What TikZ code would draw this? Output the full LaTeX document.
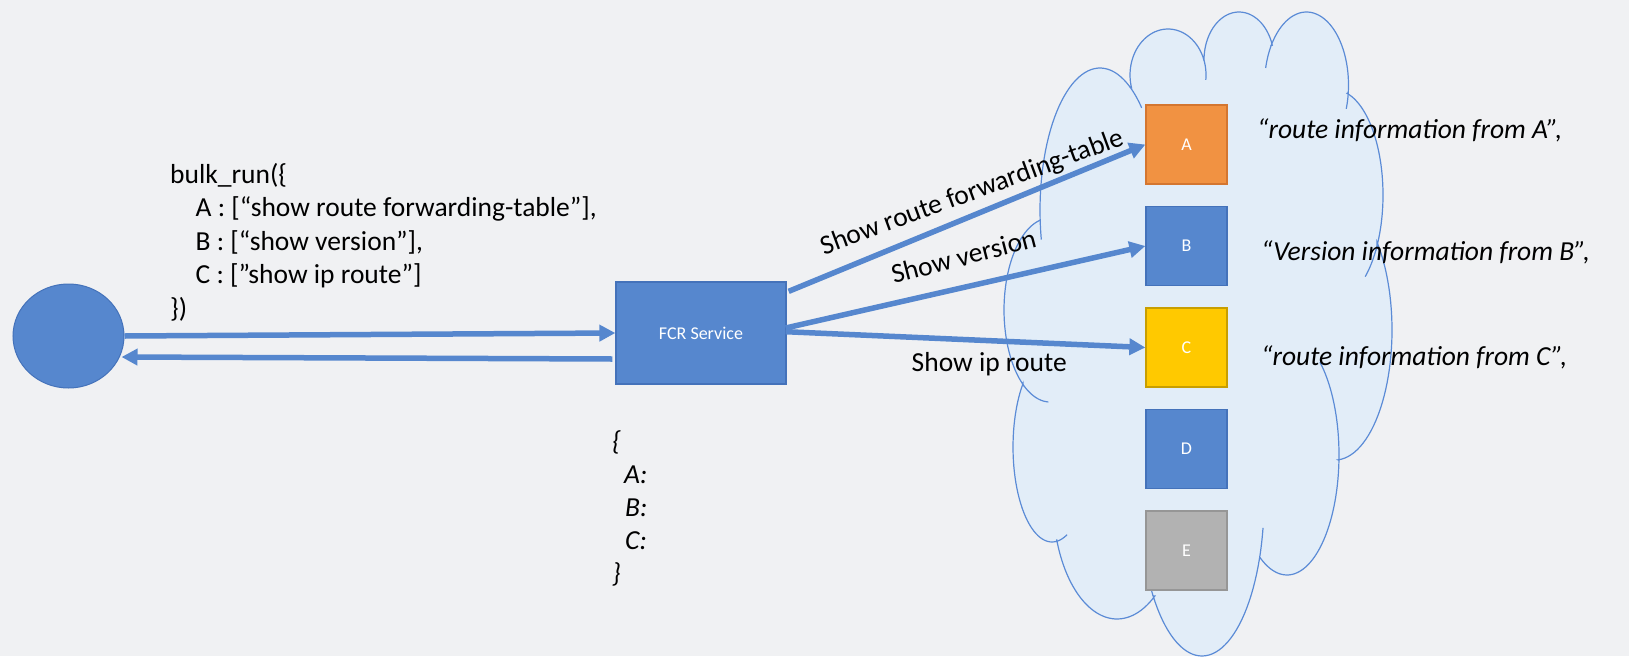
\documentclass[tikz,border=0pt]{standalone}
\usepackage{fontspec}
\setmainfont{Carlito}
\usetikzlibrary{arrows.meta,shapes.geometric,calc}

\definecolor{bgcol}{RGB}{240,241,243}
\definecolor{nodeblue}{RGB}{86,135,206}
\definecolor{blueedge}{RGB}{68,114,186}
\definecolor{aorange}{RGB}{241,146,66}
\definecolor{aedge}{RGB}{212,118,48}
\definecolor{cyellow}{RGB}{255,201,0}
\definecolor{cedge}{RGB}{200,158,0}
\definecolor{egray}{RGB}{178,178,178}
\definecolor{eedge}{RGB}{150,150,150}
\definecolor{cloudfill}{RGB}{226,237,248}
\definecolor{cloudline}{RGB}{91,139,214}
\definecolor{arrowblue}{RGB}{86,135,206}

\begin{document}
\begin{tikzpicture}[x=1pt,y=-1pt,
  device/.style={draw, line width=1.3pt, minimum width=81pt, minimum height=79pt,
    inner sep=0pt, text=white, font=\fontsize{18}{20}\selectfont},
  flow/.style={draw=arrowblue, line width=5.5pt, -{Triangle[length=16pt,width=16pt]}},
  code/.style={anchor=base west, inner sep=0pt, font=\fontsize{27.5}{33}\selectfont},
  reply/.style={anchor=base west, inner sep=0pt, font=\fontsize{27.5}{33}\selectfont\itshape},
  cmdlabel/.style={anchor=base, inner sep=0pt, font=\fontsize{27.5}{33}\selectfont},
  wrinkle/.style={draw=cloudline, line width=1.2pt},
]
\useasboundingbox (0,0) rectangle (1629,656);
\fill[bgcol] (0,0) rectangle (1629,656);

% cloud outline: one elliptical arc per bump, joined at the notches
\filldraw[fill=cloudfill, draw=cloudline, line width=1.2pt]
  plot[domain=176:300, samples=40, variable=\t] ({1100+60*cos(\t)},{210+142*sin(\t)})
  -- plot[domain=164:341, samples=40, variable=\t] ({1168+38*cos(\t)},{75+46*sin(\t)})
  -- plot[domain=180:342, samples=40, variable=\t] ({1239+35*cos(\t)},{60+48*sin(\t)})
  -- plot[domain=213:366, samples=40, variable=\t] ({1306.5+42*cos(\t)},{85+73*sin(\t)})
  -- plot[domain=284.5:389, samples=40, variable=\t] ({1335+48*cos(\t)},{195+105*sin(\t)})
  -- plot[domain=317.5:447, samples=40, variable=\t] ({1335+57*cos(\t)},{330+130*sin(\t)})
  -- plot[domain=2.5:121, samples=40, variable=\t] ({1287+52*cos(\t)},{455+120*sin(\t)})
  -- plot[domain=22:142, samples=40, variable=\t] ({1202+62*cos(\t)},{500+156*sin(\t)})
  -- plot[domain=53.8:160.7, samples=40, variable=\t] ({1117+64*cos(\t)},{500+119*sin(\t)})
  -- plot[domain=82.6:221.9, samples=40, variable=\t] ({1052+39*cos(\t)},{447+95*sin(\t)})
  -- plot[domain=125.9:257.5, samples=40, variable=\t] ({1050+46*cos(\t)},{310+92*sin(\t)})
  -- cycle;

% inner wrinkles of the cloud
\foreach \cx/\cy/\rx/\ry/\ta/\tb in {
  1100/210/60/142/168/176, 1100/210/60/142/300/314,
  1168/75/38/46/341/366,
  1306.5/85/42/73/193.5/213, 1306.5/85/42/73/366/379,
  1335/195/48/105/389/411,
  1287/455/52/120/309.3/362.5,
  1202/500/62/156/10.3/22, 1202/500/62/156/142/146,
  1052/447/39/95/67.4/82.6,
  1050/310/46/92/92/125.9}
  \draw[wrinkle] plot[domain=\ta:\tb, samples=20, variable=\t] ({\cx+\rx*cos(\t)},{\cy+\ry*sin(\t)});

% devices inside the cloud
\node[device, fill=aorange, draw=aedge] (devA) at (1186.5,144.5) {A};
\node[device, fill=nodeblue, draw=blueedge] (devB) at (1186.5,246) {B};
\node[device, fill=cyellow, draw=cedge] (devC) at (1186.5,347.5) {C};
\node[device, fill=nodeblue, draw=blueedge] (devD) at (1186.5,449) {D};
\node[device, fill=egray, draw=eedge] (devE) at (1186.5,550.5) {E};

% client and service
\node[ellipse, fill=nodeblue, draw=blueedge, line width=1pt, minimum width=111pt,
  minimum height=104pt, inner sep=0pt] (client) at (68.5,336) {};
\node[rectangle, fill=nodeblue, draw=blueedge, line width=1.3pt, minimum width=170pt,
  minimum height=102pt, inner sep=0pt, text=white, font=\fontsize{18}{20}\selectfont]
  (fcr) at (701,333) {FCR Service};

% connectors
\coordinate (retfrom) at ($(fcr.west)+(-3,26)$);
\coordinate (retto) at ($(client.east)+(-3,21)$);
\coordinate (outA) at ($(fcr.north east)+(2,10)$);
\coordinate (outB) at ($(fcr.east)+(-1,-5)$);
\coordinate (outC) at ($(fcr.east)+(-1,-1.3)$);

\draw[flow] (client.east) -- (fcr.west);
\draw[flow] (retfrom) -- (retto);
\draw[flow] (outA) -- (devA.west);
\draw[flow] (outB) -- (devB.west);
\draw[flow] (outC) -- (devC.west);

% command labels on the connectors
\node[cmdlabel, rotate=20.2] (lblA) at (975,199.7) {Show route forwarding-table};
\node[cmdlabel, rotate=14.5] (lblB) at (965.8,265.3) {Show version};
\node[code] (lblC) at (911.5,371.7) {Show ip route};

% request text
\node[code] (req1) at (170,183) {bulk\_run(\{};
\node[code] (req2) at (195.5,216.5) {A : [“show route forwarding-table”],};
\node[code] (req3) at (195.5,250) {B : [“show version”],};
\node[code] (req4) at (195.5,283.5) {C : [”show ip route”]};
\node[code] (req5) at (170,317) {\})};

% response text
\node[reply] (resp1) at (612,450) {\{};
\node[reply] (resp2) at (624,483) {A:};
\node[reply] (resp3) at (625,516) {B:};
\node[reply] (resp4) at (625,549) {C:};
\node[reply] (resp5) at (612,582) {\}};

% per-device results
\node[reply] (resA) at (1257,138.3) {“route information from A”,};
\node[reply] (resB) at (1261,260) {“Version information from B”,};
\node[reply] (resC) at (1261,365) {“route information from C”,};
\end{tikzpicture}
\end{document}
